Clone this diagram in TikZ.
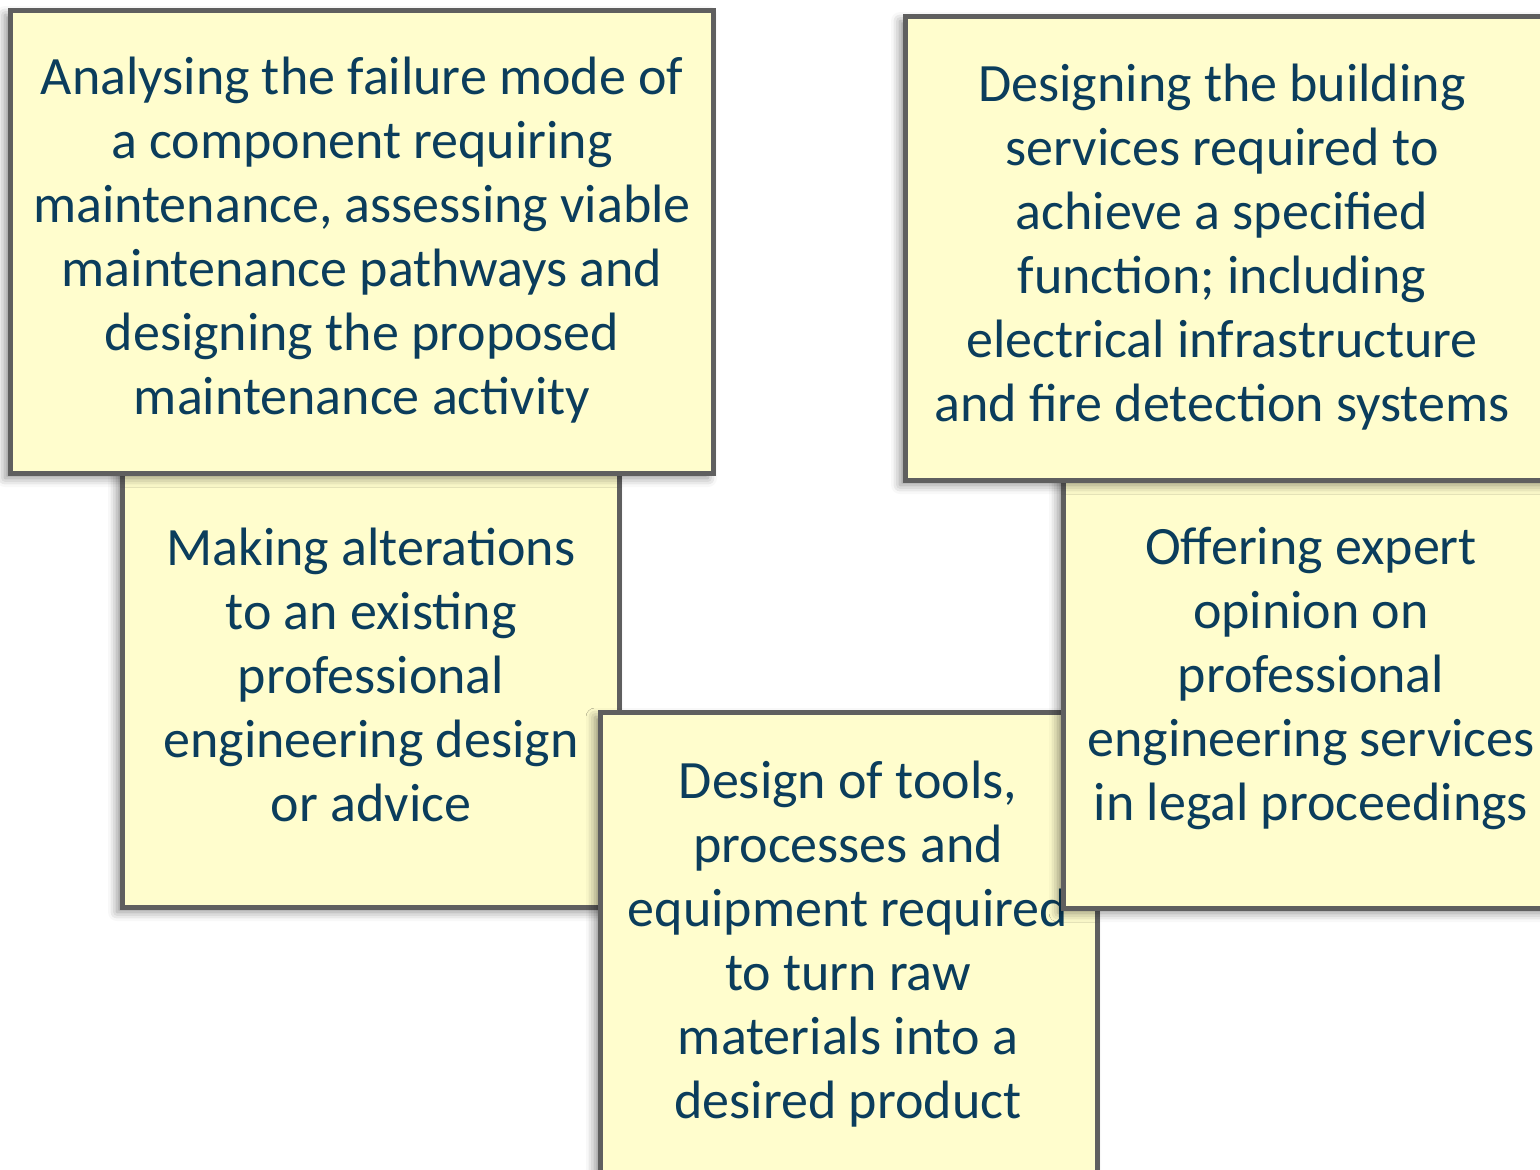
\documentclass[tikz,border=0pt]{standalone}
\usepackage{fontspec}
\setmainfont{Carlito}
\usetikzlibrary{shadows.blur}
\definecolor{notefill}{HTML}{FFFDCD}
\definecolor{noteedge}{HTML}{5F5F5F}
\definecolor{notetext}{HTML}{0B3D5C}
\tikzset{
  note/.style={draw=noteedge, fill=notefill, line width=5pt, inner sep=0pt,
    blur shadow={shadow xshift=-5pt, shadow yshift=-5pt, shadow blur radius=9pt, shadow opacity=45}},
  notetxt/.style={align=center, text=notetext, inner sep=0pt,
    font=\fontsize{54}{64}\selectfont}
}
\begin{document}
\begin{tikzpicture}[x=1pt,y=-1pt]
\useasboundingbox (0,0) rectangle (1540,1170);
\clip (0,0) rectangle (1540,1170);
% box 3 (middle left)
\node[note, minimum width=497pt, minimum height=464pt] (b3) at (370.5,675) {};
\node[notetxt] (t3) at (371,675) {Making alterations\\to an existing\\professional\\engineering design\\or advice};
% box 1 (top left)
\node[note, minimum width=703pt, minimum height=463pt] (b1) at (361.5,241.5) {};
\node[notetxt] (t1) at (362,240) {Analysing the failure mode of\\a component requiring\\maintenance, assessing viable\\maintenance pathways and\\designing the proposed\\maintenance activity};
% box 5 (bottom centre)
\node[note, minimum width=497pt, minimum height=470pt] (b5) at (848.5,947) {};
\node[notetxt] (t5) at (848,944) {Design of tools,\\processes and\\equipment required\\to turn raw\\materials into a\\desired product};
% box 4 (middle right)
\node[note, minimum width=496pt, minimum height=460pt] (b4) at (1311,678) {};
\node[notetxt] (t4) at (1311,678) {Offering expert\\opinion on\\professional\\engineering services\\in legal proceedings};
% box 2 (top right)
\node[note, minimum width=660pt, minimum height=464pt] (b2) at (1235,248) {};
\node[notetxt] (t2) at (1222,247) {Designing the building\\services required to\\achieve a specified\\function; including\\electrical infrastructure\\and fire detection systems};
\end{tikzpicture}
\end{document}
